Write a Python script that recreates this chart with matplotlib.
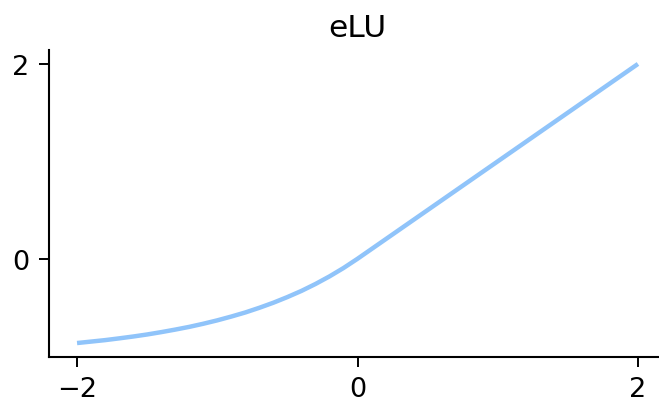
import matplotlib
matplotlib.use("Agg")
import matplotlib.pyplot as plt

x_vals = [-2.0, -1.9, -1.8, -1.7, -1.6, -1.5, -1.4, -1.3, -1.2, -1.1, -1.0,
          -0.9, -0.8, -0.7, -0.6, -0.5, -0.4, -0.3, -0.2, -0.1, 0.0,
          0.5, 1.0, 1.5, 2.0]
y_vals = [-0.865, -0.850, -0.835, -0.817, -0.798, -0.777, -0.753, -0.727, -0.699, -0.667, -0.632,
          -0.593, -0.551, -0.503, -0.451, -0.393, -0.330, -0.259, -0.181, -0.095, 0.0,
          0.5, 1.0, 1.5, 2.0]
title = "eLU"
xticks = [-2, 0, 2]
yticks = [0, 2]

W, H = 659, 402
fig = plt.figure(figsize=(W / 100, H / 100), dpi=100)
left, right, top, bottom = 49, 666, 51, 358
ax = fig.add_axes([left / W, (H - bottom) / H, (right - left) / W, (bottom - top) / H])
ax.plot(x_vals, y_vals, color="#90c4fa", lw=3.2, solid_capstyle="butt")
ax.set_title(title, fontsize=22.5, pad=10)
ax.set_xticks(xticks)
ax.set_yticks(yticks)
ax.tick_params(labelsize=19.5, width=1.4, length=7, pad=7)
for s in ["top", "right"]:
    ax.spines[s].set_visible(False)
for s in ["left", "bottom"]:
    ax.spines[s].set_linewidth(1.5)
fig.savefig("out.png", dpi=100)
